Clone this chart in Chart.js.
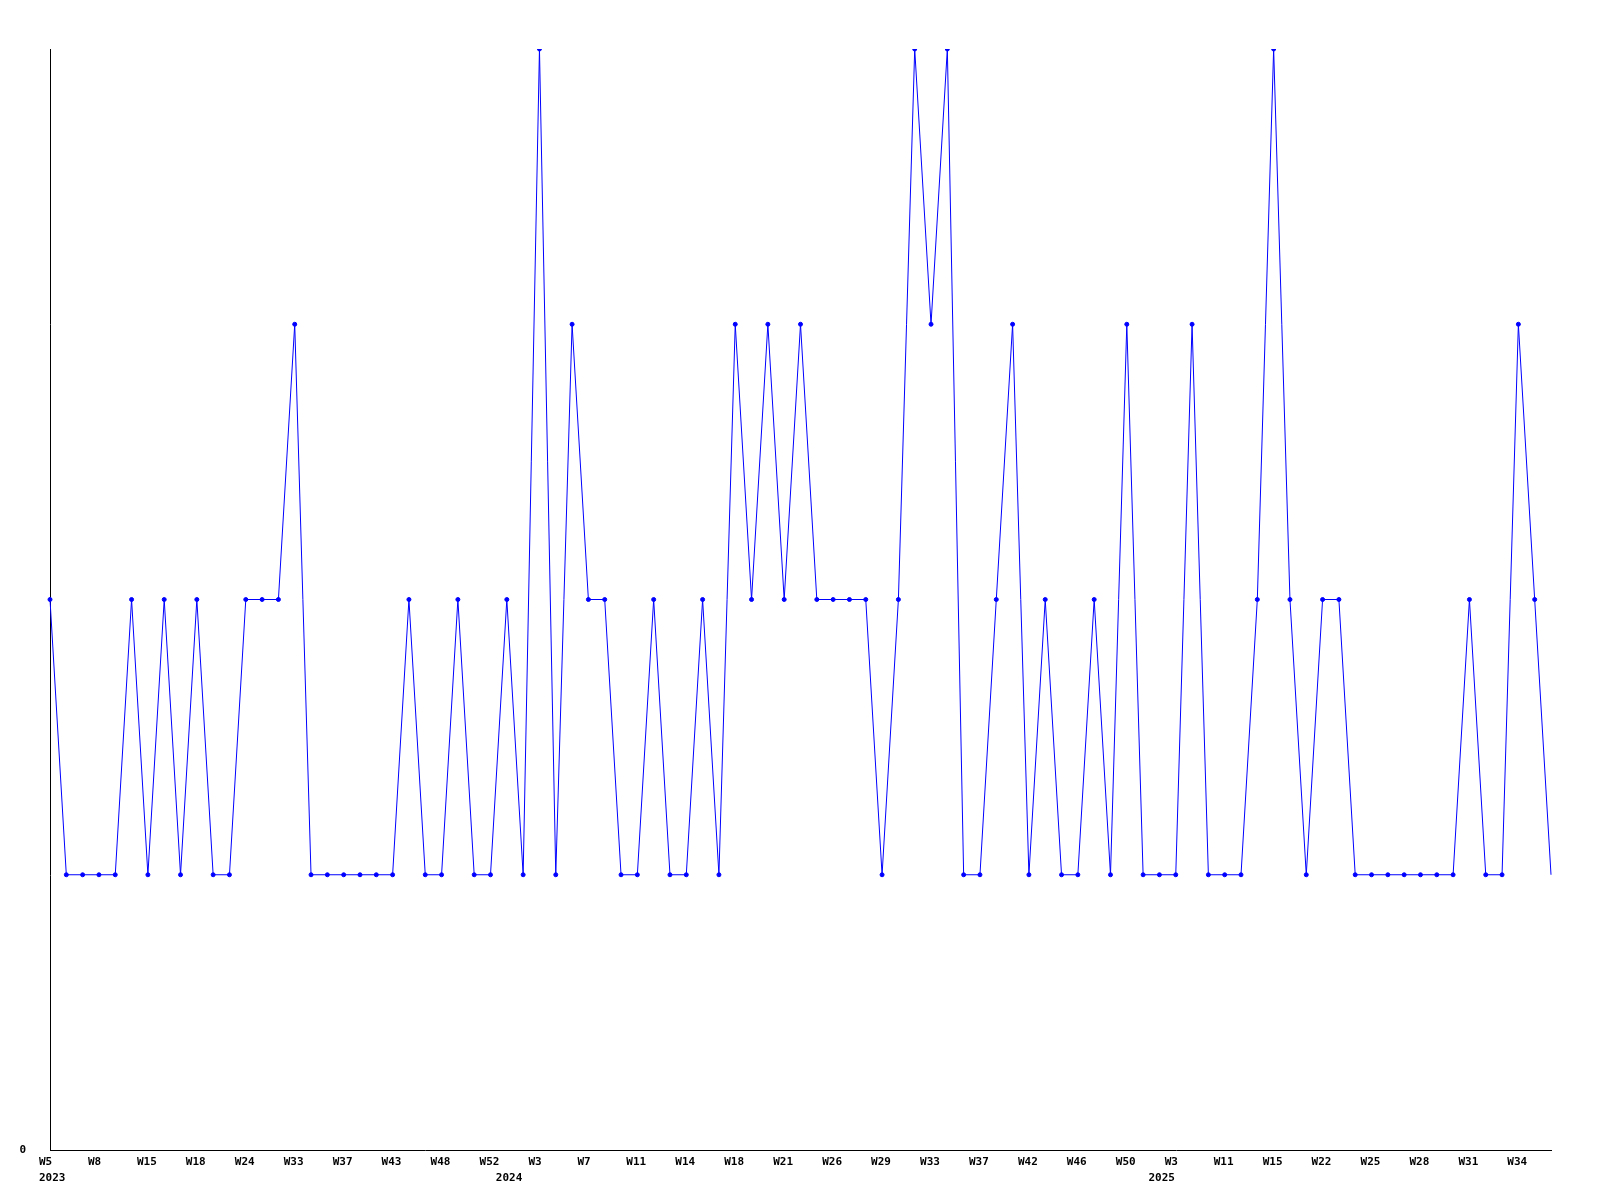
<!DOCTYPE html>
<html>
<head>
<meta charset="utf-8">
<script src="https://cdn.jsdelivr.net/npm/chart.js@4/dist/chart.umd.min.js"></script>
<style>
  html, body { margin: 0; padding: 0; background: #fff; }
  #wrap { width: 1600px; height: 1200px; }
</style>
</head>
<body>
<div id="wrap"><canvas id="weekChart" width="1600" height="1200"></canvas></div>
<script>
// one value per point, left to right
const values = [2,1,1,1,1,2,1,2,1,2,
                1,1,2,2,2,3,1,1,1,1,
                1,1,2,1,1,2,1,1,2,1,
                4,1,3,2,2,1,1,2,1,1,
                2,1,3,2,3,2,3,2,2,2,
                2,1,2,4,3,4,1,1,2,3,
                1,2,1,1,2,1,3,1,1,1,
                3,1,1,1,2,4,2,1,2,2,
                1,1,1,1,1,1,1,2,1,1,
                3,2,1];
// week labels, shown on every third point
const weekLabels = ['W5','W8','W15','W18','W24','W33','W37','W43','W48','W52',
                    'W3','W7','W11','W14','W18','W21','W26','W29','W33','W37',
                    'W42','W46','W50','W3','W11','W15','W22','W25','W28','W31','W34'];
const labelEvery = 3;
// year labels under the first point of each year
const yearIndex = [0, 28, 68];
const yearLabels = ['2023', '2024', '2025'];
const yMax = 4;

let chartLabels = [];
for(let i=0;i<values.length;i++) {
    let week = (i % labelEvery === 0) ? weekLabels[i/labelEvery] : '';
    let k = yearIndex.indexOf(i);
    let year = (k !== -1) ? yearLabels[k] : '';
    chartLabels.push([week, year]);
}

// last point is drawn without a marker
let pointSizes = values.map(function(v, i) { return i === values.length-1 ? 0 : 2; });

const tickFont = { family: 'DejaVu Sans Mono', size: 11, weight: 'bold', lineHeight: 1.45 };

const ctxChart = document.getElementById('weekChart');
window.chartObject = new Chart(ctxChart, {
    type: 'line',
    data: {
        labels: chartLabels,
        datasets: [{
            data: values,
            borderColor: '#0000ff',
            backgroundColor: '#0000ff',
            borderWidth: 1,
            pointRadius: pointSizes,
            pointBorderWidth: 1,
            pointHoverRadius: pointSizes,
            tension: 0
        }]
    },
    options: {
        responsive: false,
        animation: false,
        layout: { padding: { top: 49, right: 49, left: 0, bottom: 0 } },
        plugins: {
            legend: { display: false },
            tooltip: { enabled: false }
        },
        scales: {
            x: {
                offset: false,
                grid: { display: false, drawTicks: false },
                border: { display: true, color: '#000', width: 1 },
                ticks: {
                    autoSkip: false,
                    maxRotation: 0,
                    minRotation: 0,
                    align: 'start',
                    labelOffset: -11,
                    padding: 4,
                    color: '#000',
                    font: tickFont
                },
                afterFit: function(scale) { scale.height = 50; }
            },
            y: {
                min: 0,
                max: yMax,
                grid: { display: false, drawTicks: false },
                border: { display: true, color: '#000', width: 1 },
                ticks: {
                    stepSize: 1,
                    padding: 24,
                    color: '#000',
                    font: tickFont,
                    callback: function(value) { return value === 0 ? '0' : ''; }
                },
                afterFit: function(scale) { scale.width = 50; }
            }
        }
    }
});
</script>
</body>
</html>
